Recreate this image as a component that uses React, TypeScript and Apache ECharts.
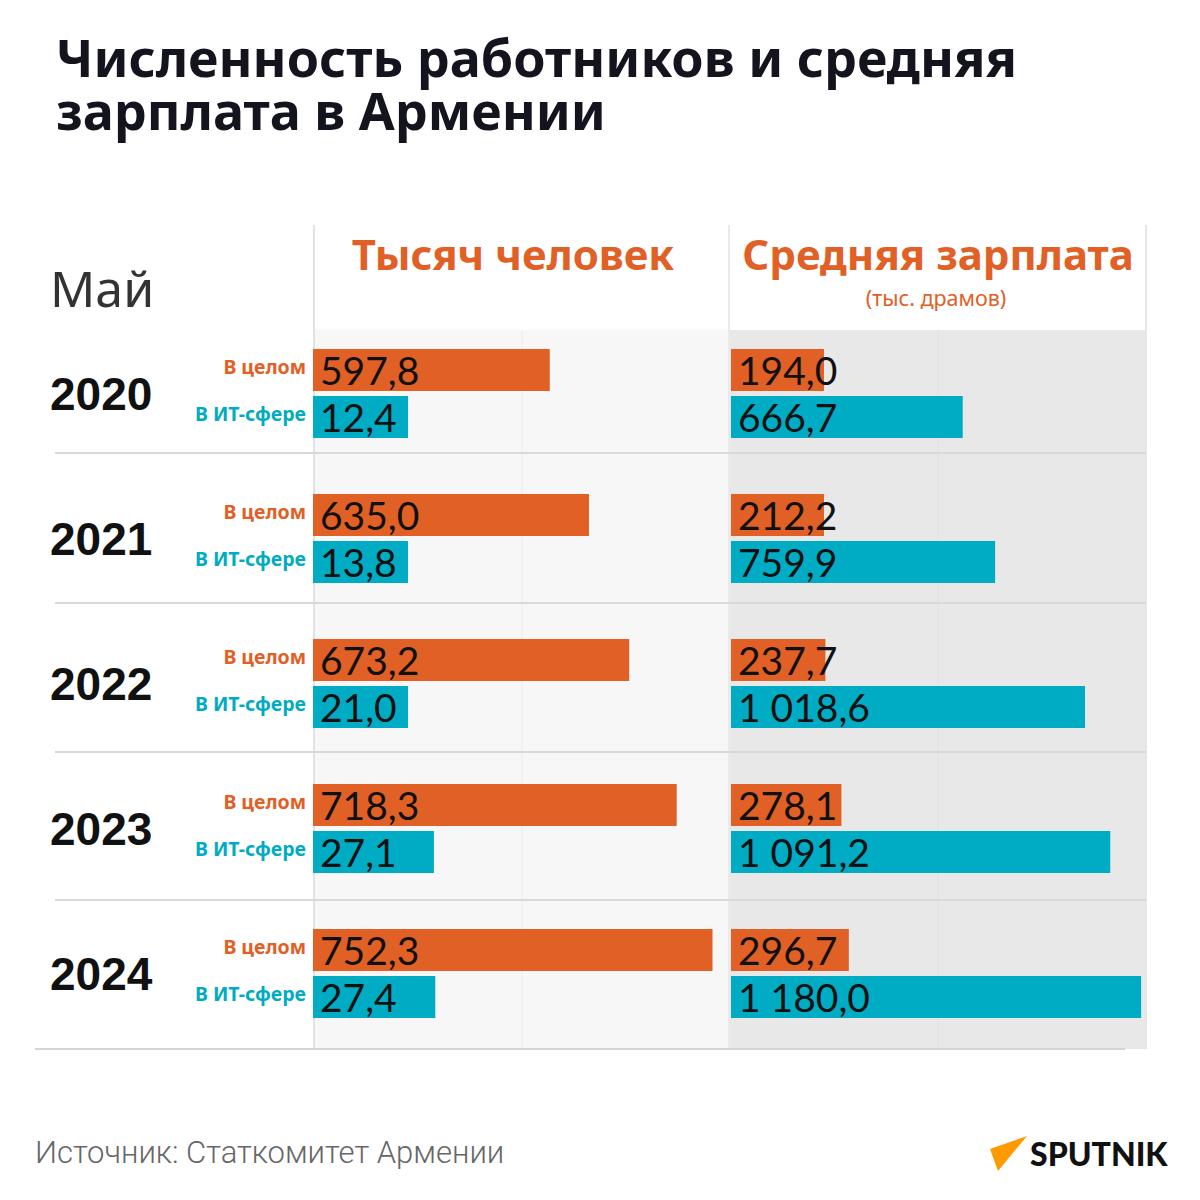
import React, { useEffect, useRef } from "react";
import * as echarts from "echarts";

const years = ["2020", "2021", "2022", "2023", "2024"];
const totalEmployees = [597.8, 635.0, 673.2, 718.3, 752.3];
const itEmployees = [12.4, 13.8, 21.0, 27.1, 27.4];
const avgSalary = [194.0, 212.2, 237.7, 278.1, 296.7];
const itSalary = [666.7, 759.9, 1018.6, 1091.2, 1180.0];

const labelTotal = "В целом";
const labelIT = "В ИТ-сфере";

const ORANGE = "#e06025";
const TEAL = "#00abc4";

const fmt = (v: number) => {
  const [i, d] = v.toFixed(1).split(".");
  return i.replace(/\B(?=(\d{3})+(?!\d))/g, " ") + "," + d;
};

export default function App() {
  const ref = useRef<HTMLDivElement>(null);
  useEffect(() => {
    if (!ref.current) return;
    const chart = echarts.init(ref.current, null, { renderer: "svg" });
    const barLabel = {
      show: true,
      position: "insideLeft",
      distance: 7,
      color: "#111",
      fontSize: 39,
      fontFamily: "Lato",
      formatter: (p: any) => fmt(p.value),
    };
    const gridTop = 321;
    const gridH = 725;
    const line = (x1: number, y1: number, x2: number, y2: number, color: string, w = 2) => ({
      type: "line",
      z: 0,
      shape: { x1, y1, x2, y2 },
      style: { stroke: color, lineWidth: w },
      silent: true,
    });
    const option: any = {
      animation: false,
      backgroundColor: "#ffffff",
      grid: [
        { left: 313, width: 415, top: gridTop, height: gridH },
        { left: 731, width: 415, top: gridTop, height: gridH },
      ],
      xAxis: [
        { gridIndex: 0, type: "value", min: 373, max: 767, show: false },
        { gridIndex: 0, type: "value", min: 0, max: 93, show: false },
        { gridIndex: 1, type: "value", min: 0, max: 1045, show: false },
        { gridIndex: 1, type: "value", min: 0, max: 1194, show: false },
      ],
      yAxis: [
        {
          gridIndex: 0,
          type: "category",
          data: years,
          inverse: true,
          axisLine: { show: false },
          axisTick: { show: false },
          splitLine: { show: false },
          axisLabel: {
            margin: 7,
            align: "right",
            padding: [0, 0, 8, 0],
            formatter: () => `{a|${labelTotal}}\n{b|${labelIT}}`,
            rich: {
              a: { color: ORANGE, fontSize: 19.5, fontWeight: "bold", fontFamily: "Noto Sans", lineHeight: 47, align: "right" },
              b: { color: TEAL, fontSize: 19.5, fontWeight: "bold", fontFamily: "Noto Sans", lineHeight: 47, align: "right" },
            },
          },
        },
        {
          gridIndex: 0,
          type: "category",
          data: years,
          inverse: true,
          position: "left",
          offset: 0,
          axisLine: { show: false },
          axisTick: { show: false },
          splitLine: { show: false },
          axisLabel: {
            margin: 263,
            align: "left",
            color: "#111",
            fontSize: 46,
            fontWeight: "bold",
            fontFamily: "Liberation Sans",
            padding: [0, 0, 6, 0],
          },
        },
        { gridIndex: 1, type: "category", data: years, inverse: true, show: false },
      ],
      series: [
        {
          type: "bar", xAxisIndex: 0, yAxisIndex: 0, data: totalEmployees,
          barWidth: 42, barGap: "12%", clip: true,
          itemStyle: { color: ORANGE }, label: barLabel,
        },
        {
          type: "bar", xAxisIndex: 1, yAxisIndex: 0, data: itEmployees,
          barWidth: 42, barGap: "12%", barMinHeight: 95, clip: true,
          itemStyle: { color: TEAL }, label: barLabel,
        },
        {
          type: "bar", xAxisIndex: 2, yAxisIndex: 2, data: avgSalary,
          barWidth: 42, barGap: "12%", barMinHeight: 93, clip: true,
          itemStyle: { color: ORANGE }, label: barLabel,
        },
        {
          type: "bar", xAxisIndex: 3, yAxisIndex: 2, data: itSalary,
          barWidth: 42, barGap: "12%", clip: true,
          itemStyle: { color: TEAL }, label: barLabel,
        },
      ],
      graphic: [
        { type: "rect", z: 0, silent: true, shape: { x: 313, y: 330, width: 415, height: 719 }, style: { fill: "#f7f7f7" } },
        { type: "rect", z: 0, silent: true, shape: { x: 729, y: 330, width: 417, height: 719 }, style: { fill: "#e8e8e8" } },
        line(522, 330, 522, 1049, "#ececec", 1),
        line(938, 330, 938, 1049, "#e1e1e1", 1),
        line(314, 225, 314, 1049, "#e2e2e2", 2),
        line(729, 225, 729, 1049, "#eaeaea", 2),
        line(1146, 225, 1146, 1049, "#e6e6e6", 2),
        line(55, 453, 1146, 453, "#d9d9d9", 2),
        line(55, 603, 1146, 603, "#d9d9d9", 2),
        line(55, 752, 1146, 752, "#d9d9d9", 2),
        line(55, 900, 1146, 900, "#d9d9d9", 2),
        line(35, 1049, 1125, 1049, "#d4d4d4", 2),
        {
          type: "text", x: 56, y: 30,
          style: {
            text: "Численность работников и средняя\nзарплата в Армении",
            fill: "#14141f", fontSize: 52, fontWeight: "bold", fontFamily: "Noto Sans",
            lineHeight: 53, verticalAlign: "top",
          },
        },
        {
          type: "text", x: 50, y: 288,
          style: { text: "Май", fill: "#333", fontSize: 50, fontFamily: "Noto Sans", verticalAlign: "middle" },
        },
        {
          type: "text", x: 513, y: 253,
          style: { text: "Тысяч человек", fill: ORANGE, fontSize: 42, fontWeight: "bold", fontFamily: "Noto Sans", align: "center", verticalAlign: "middle" },
        },
        {
          type: "text", x: 938, y: 253,
          style: { text: "Средняя зарплата", fill: ORANGE, fontSize: 42, fontWeight: "bold", fontFamily: "Noto Sans", align: "center", verticalAlign: "middle" },
        },
        {
          type: "text", x: 936, y: 297,
          style: { text: "(тыс. драмов)", fill: ORANGE, fontSize: 21.5, fontFamily: "Noto Sans", align: "center", verticalAlign: "middle" },
        },
        {
          type: "text", x: 35, y: 1152,
          style: { text: "Источник: Статкомитет Армении", fill: "#666", fontSize: 31, fontWeight: 300, fontFamily: "Roboto", verticalAlign: "middle" },
        },
        {
          type: "polygon", silent: true,
          shape: { points: [[990, 1149], [1027, 1136], [998, 1171]] },
          style: { fill: "#ff9900" },
        },
        {
          type: "text", x: 1030, y: 1153,
          style: { text: "SPUTNIK", fill: "#111", fontSize: 32, fontWeight: 900, fontFamily: "Lato", verticalAlign: "middle" },
        },
      ],
    };
    chart.setOption(option);
    return () => chart.dispose();
  }, []);
  return <div ref={ref} style={{ position: "absolute", left: 0, top: 0, width: 1200, height: 1200 }} />;
}
